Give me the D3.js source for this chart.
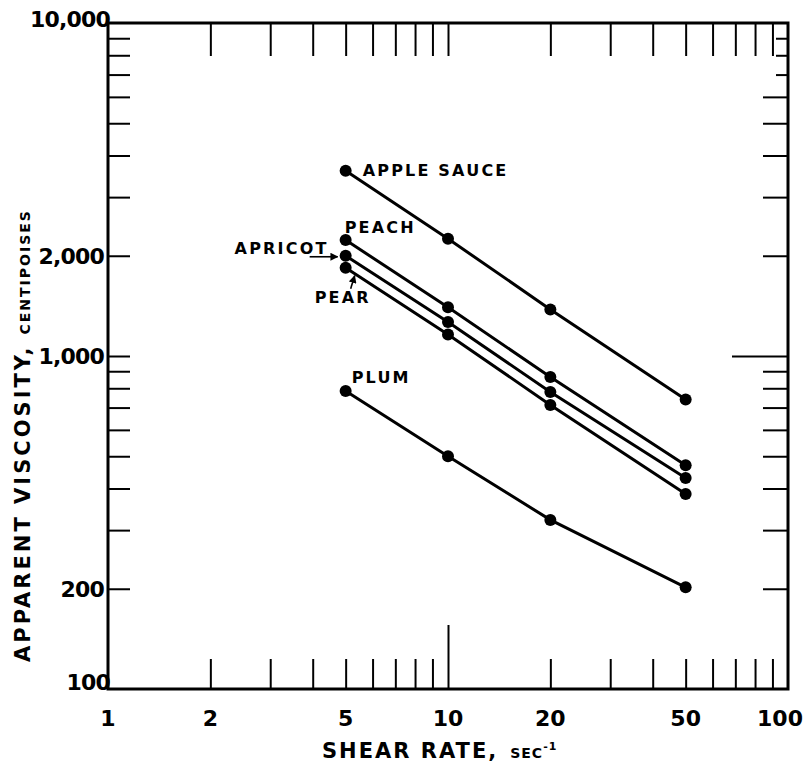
<!DOCTYPE html>
<html>
<head>
<meta charset="utf-8">
<script src="https://cdnjs.cloudflare.com/ajax/libs/d3/7.8.5/d3.min.js"></script>
<style>
  body { margin: 0; background: #fff; }
  text { font-family: "DejaVu Sans", sans-serif; font-weight: bold; fill: #000; }
</style>
</head>
<body>
<div id="graph"></div>
<script>
// shear rates (sec-1) where each sample was measured
var shearRates = [5, 10, 20, 50];

// apparent viscosity, centipoises
var appleSauce = [3600, 2250, 1380, 740];
var peach      = [2230, 1400, 865, 470];
var apricot    = [2000, 1265, 780, 430];
var pear       = [1840, 1160, 713, 385];
var plum       = [785, 500, 322, 202];

var seriesNames = ["APPLE SAUCE", "PEACH", "APRICOT", "PEAR", "PLUM"];
var seriesValues = [appleSauce, peach, apricot, pear, plum];

var xTickLabels = [1, 2, 5, 10, 20, 50, 100];
var yTickLabels = [100, 200, 1000, 2000, 10000];

var width = 809, height = 776;
var margin = { top: 23, right: 21, bottom: 87, left: 108 };

var svg = d3.select("#graph").append("svg")
    .attr("width", width)
    .attr("height", height);

var x = d3.scaleLog().domain([1, 100]).range([margin.left, width - margin.right]);
var y = d3.scaleLog().domain([100, 10000]).range([height - margin.bottom, margin.top]);

var x0 = x.range()[0], x1 = x.range()[1];
var yb = y.range()[0], yt = y.range()[1];

// minor ticks (log 2..9 in every decade), endpoints dropped
var xMinor = x.ticks().filter(function (d) { return d > 1 && d < 100; });
var yMinor = y.ticks().filter(function (d) { return d > 100 && d < 10000; });

function styleAxis(g) {
    g.select(".domain").remove();
    g.selectAll(".tick line").attr("stroke", "#000").attr("stroke-width", 2);
}

// bottom ticks, pointing inward
svg.append("g")
    .attr("transform", "translate(0," + yb + ")")
    .call(d3.axisBottom(x).tickValues(xMinor).tickSize(-30).tickFormat(""))
    .call(styleAxis)
    .selectAll(".tick line")
    .attr("y2", function (d) { return d === 10 ? -64 : -30; });

// top ticks
svg.append("g")
    .attr("transform", "translate(0," + yt + ")")
    .call(d3.axisTop(x).tickValues(xMinor).tickSize(-33).tickFormat(""))
    .call(styleAxis);

// left ticks
svg.append("g")
    .attr("transform", "translate(" + x0 + ",0)")
    .call(d3.axisLeft(y).tickValues(yMinor).tickSize(-22).tickFormat(""))
    .call(styleAxis);

// right ticks
svg.append("g")
    .attr("transform", "translate(" + x1 + ",0)")
    .call(d3.axisRight(y).tickValues(yMinor).tickSize(-25).tickFormat(""))
    .call(styleAxis)
    .selectAll(".tick line")
    .attr("x2", function (d) {
        if (d === 1000) return -56;
        if (d > 6000) return -12;
        if (d < 200) return -15;
        return -25;
    });

// frame
svg.append("rect")
    .attr("x", x0).attr("y", yt)
    .attr("width", x1 - x0).attr("height", yb - yt)
    .attr("fill", "none").attr("stroke", "#000").attr("stroke-width", 3);

// tick labels
var fmt = d3.format(",");
svg.append("g")
    .selectAll("text")
    .data(xTickLabels)
    .enter().append("text")
    .attr("x", function (d) { return d === 100 ? x(d) - 8 : x(d); })
    .attr("y", yb + 37)
    .attr("text-anchor", "middle")
    .attr("font-size", "22px")
    .text(function (d) { return d; });

svg.append("g")
    .selectAll("text")
    .data(yTickLabels)
    .enter().append("text")
    .attr("x", function (d) { return (d === 10000 || d === 100) ? x0 + 2 : x0 - 4; })
    .attr("y", function (d) {
        if (d === 10000) return y(d) + 4;
        if (d === 100) return y(d) + 1;
        return y(d) + 8;
    })
    .attr("text-anchor", "end")
    .attr("font-size", "22px")
    .attr("letter-spacing", "-0.8px")
    .text(function (d) { return fmt(d); });

// series lines and points
var line = d3.line()
    .x(function (d, i) { return x(shearRates[i]); })
    .y(function (d) { return y(d); });

svg.append("g")
    .selectAll("path")
    .data(seriesValues)
    .enter().append("path")
    .attr("d", line)
    .attr("fill", "none")
    .attr("stroke", "#000")
    .attr("stroke-width", 3);

seriesValues.forEach(function (vals) {
    svg.append("g")
        .selectAll("circle")
        .data(vals)
        .enter().append("circle")
        .attr("cx", function (d, i) { return x(shearRates[i]); })
        .attr("cy", function (d) { return y(d); })
        .attr("r", 6)
        .attr("fill", "#000");
});

// series labels, placed relative to the first point of each line
var labelOffsets = [
    { dx: 17, dy: 5, anchor: "start" },
    { dx: -1, dy: -7, anchor: "start" },
    { dx: -17, dy: -2, anchor: "end" },
    { dx: -31, dy: 35, anchor: "start" },
    { dx: 6, dy: -8, anchor: "start" }
];

svg.append("g")
    .selectAll("text")
    .data(seriesNames)
    .enter().append("text")
    .attr("x", function (d, i) { return x(shearRates[0]) + labelOffsets[i].dx; })
    .attr("y", function (d, i) { return y(seriesValues[i][0]) + labelOffsets[i].dy; })
    .attr("text-anchor", function (d, i) { return labelOffsets[i].anchor; })
    .attr("font-size", "16px")
    .attr("letter-spacing", "2.2px")
    .text(function (d) { return d; });

// arrows for APRICOT and PEAR
svg.append("defs").append("marker")
    .attr("id", "arrow")
    .attr("viewBox", "0 0 10 10")
    .attr("refX", 9).attr("refY", 5)
    .attr("markerWidth", 5).attr("markerHeight", 5)
    .attr("orient", "auto")
    .append("path")
    .attr("d", "M0,0L10,5L0,10z")
    .attr("fill", "#000");

var ax = x(shearRates[0]), ayApr = y(apricot[0]), ayPear = y(pear[0]);
svg.append("line")
    .attr("x1", ax - 36).attr("y1", ayApr + 1)
    .attr("x2", ax - 8).attr("y2", ayApr + 1)
    .attr("stroke", "#000").attr("stroke-width", 1.6)
    .attr("marker-end", "url(#arrow)");
svg.append("line")
    .attr("x1", ax + 5).attr("y1", ayPear + 21)
    .attr("x2", ax + 9).attr("y2", ayPear + 8)
    .attr("stroke", "#000").attr("stroke-width", 1.6)
    .attr("marker-end", "url(#arrow)");

// axis titles
svg.append("text")
    .attr("x", 322)
    .attr("y", 758)
    .attr("font-size", "21px")
    .attr("letter-spacing", "2px")
    .text("SHEAR RATE,")
    .append("tspan")
    .attr("dx", 12)
    .attr("font-size", "14px")
    .attr("letter-spacing", "1px")
    .text("SEC")
    .append("tspan")
    .attr("dy", -8)
    .attr("font-size", "11px")
    .text("-1");

svg.append("text")
    .attr("transform", "translate(30,662) rotate(-90)")
    .attr("font-size", "21px")
    .attr("letter-spacing", "3px")
    .text("APPARENT VISCOSITY,")
    .append("tspan")
    .attr("dx", 10)
    .attr("font-size", "14px")
    .attr("letter-spacing", "2px")
    .text("CENTIPOISES");
</script>
</body>
</html>
